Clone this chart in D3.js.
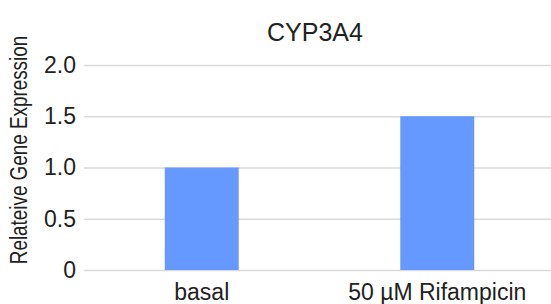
<!DOCTYPE html>
<html><head><meta charset="utf-8">
<script src="https://cdn.jsdelivr.net/npm/d3@7"></script>
<style>body{margin:0;background:#fff}svg{display:block;font-family:"Liberation Sans",Arial,sans-serif}</style>
</head><body>
<svg id="c" width="551" height="304"></svg>
<script>
const categories = ["basal", "50 µM Rifampicin"];
const values = [1.0, 1.5];
const yTicks = [0, 0.5, 1.0, 1.5, 2.0];
const yTickLabels = ["0", "0.5", "1.0", "1.5", "2.0"];
const title = "CYP3A4";
const yTitle = "Relateive Gene Expression";

(function(){
const svg = d3.select("#c");
const mLeft = 84, mRight = 555, mTop = 65, mBottom = 270;
const x = d3.scaleBand().domain(categories).range([mLeft, mRight]).paddingInner(0.686).paddingOuter(0.343);
const y = d3.scaleLinear().domain([0, 2]).range([mBottom, mTop]);

const yAxis = d3.axisLeft(y).tickValues(yTicks).tickFormat((d,i)=>yTickLabels[i]).tickSize(-(551-mLeft)).tickPadding(8);
const gy = svg.append("g").attr("transform", `translate(${mLeft},0)`).call(yAxis);
gy.select(".domain").remove();
gy.selectAll(".tick line").attr("stroke", "#d9d9d9").attr("stroke-width", 1.5);
gy.selectAll(".tick text").attr("font-size", 23).attr("fill", "#222").attr("x", -8);

svg.append("g").selectAll("rect").data(values).join("rect")
  .attr("x", (d,i)=>x(categories[i]))
  .attr("width", x.bandwidth())
  .attr("y", d=>y(d))
  .attr("height", d=>y(0)-y(d))
  .attr("fill", "#6699ff");

const xAxis = d3.axisBottom(x).tickSize(0).tickPadding(14);
const gx = svg.append("g").attr("transform", `translate(0,${mBottom})`).call(xAxis);
gx.select(".domain").remove();
gx.selectAll(".tick text").attr("font-size", 23).attr("fill", "#222");

svg.append("text").attr("x", 315).attr("y", 41).attr("text-anchor", "middle")
  .attr("font-size", 25).attr("fill", "#222").text(title);
svg.append("text").attr("transform", "translate(27,150) rotate(-90) scale(0.82,1)").attr("text-anchor", "middle")
  .attr("font-size", 23).attr("fill", "#222").text(yTitle);
})();
</script>
</body></html>
